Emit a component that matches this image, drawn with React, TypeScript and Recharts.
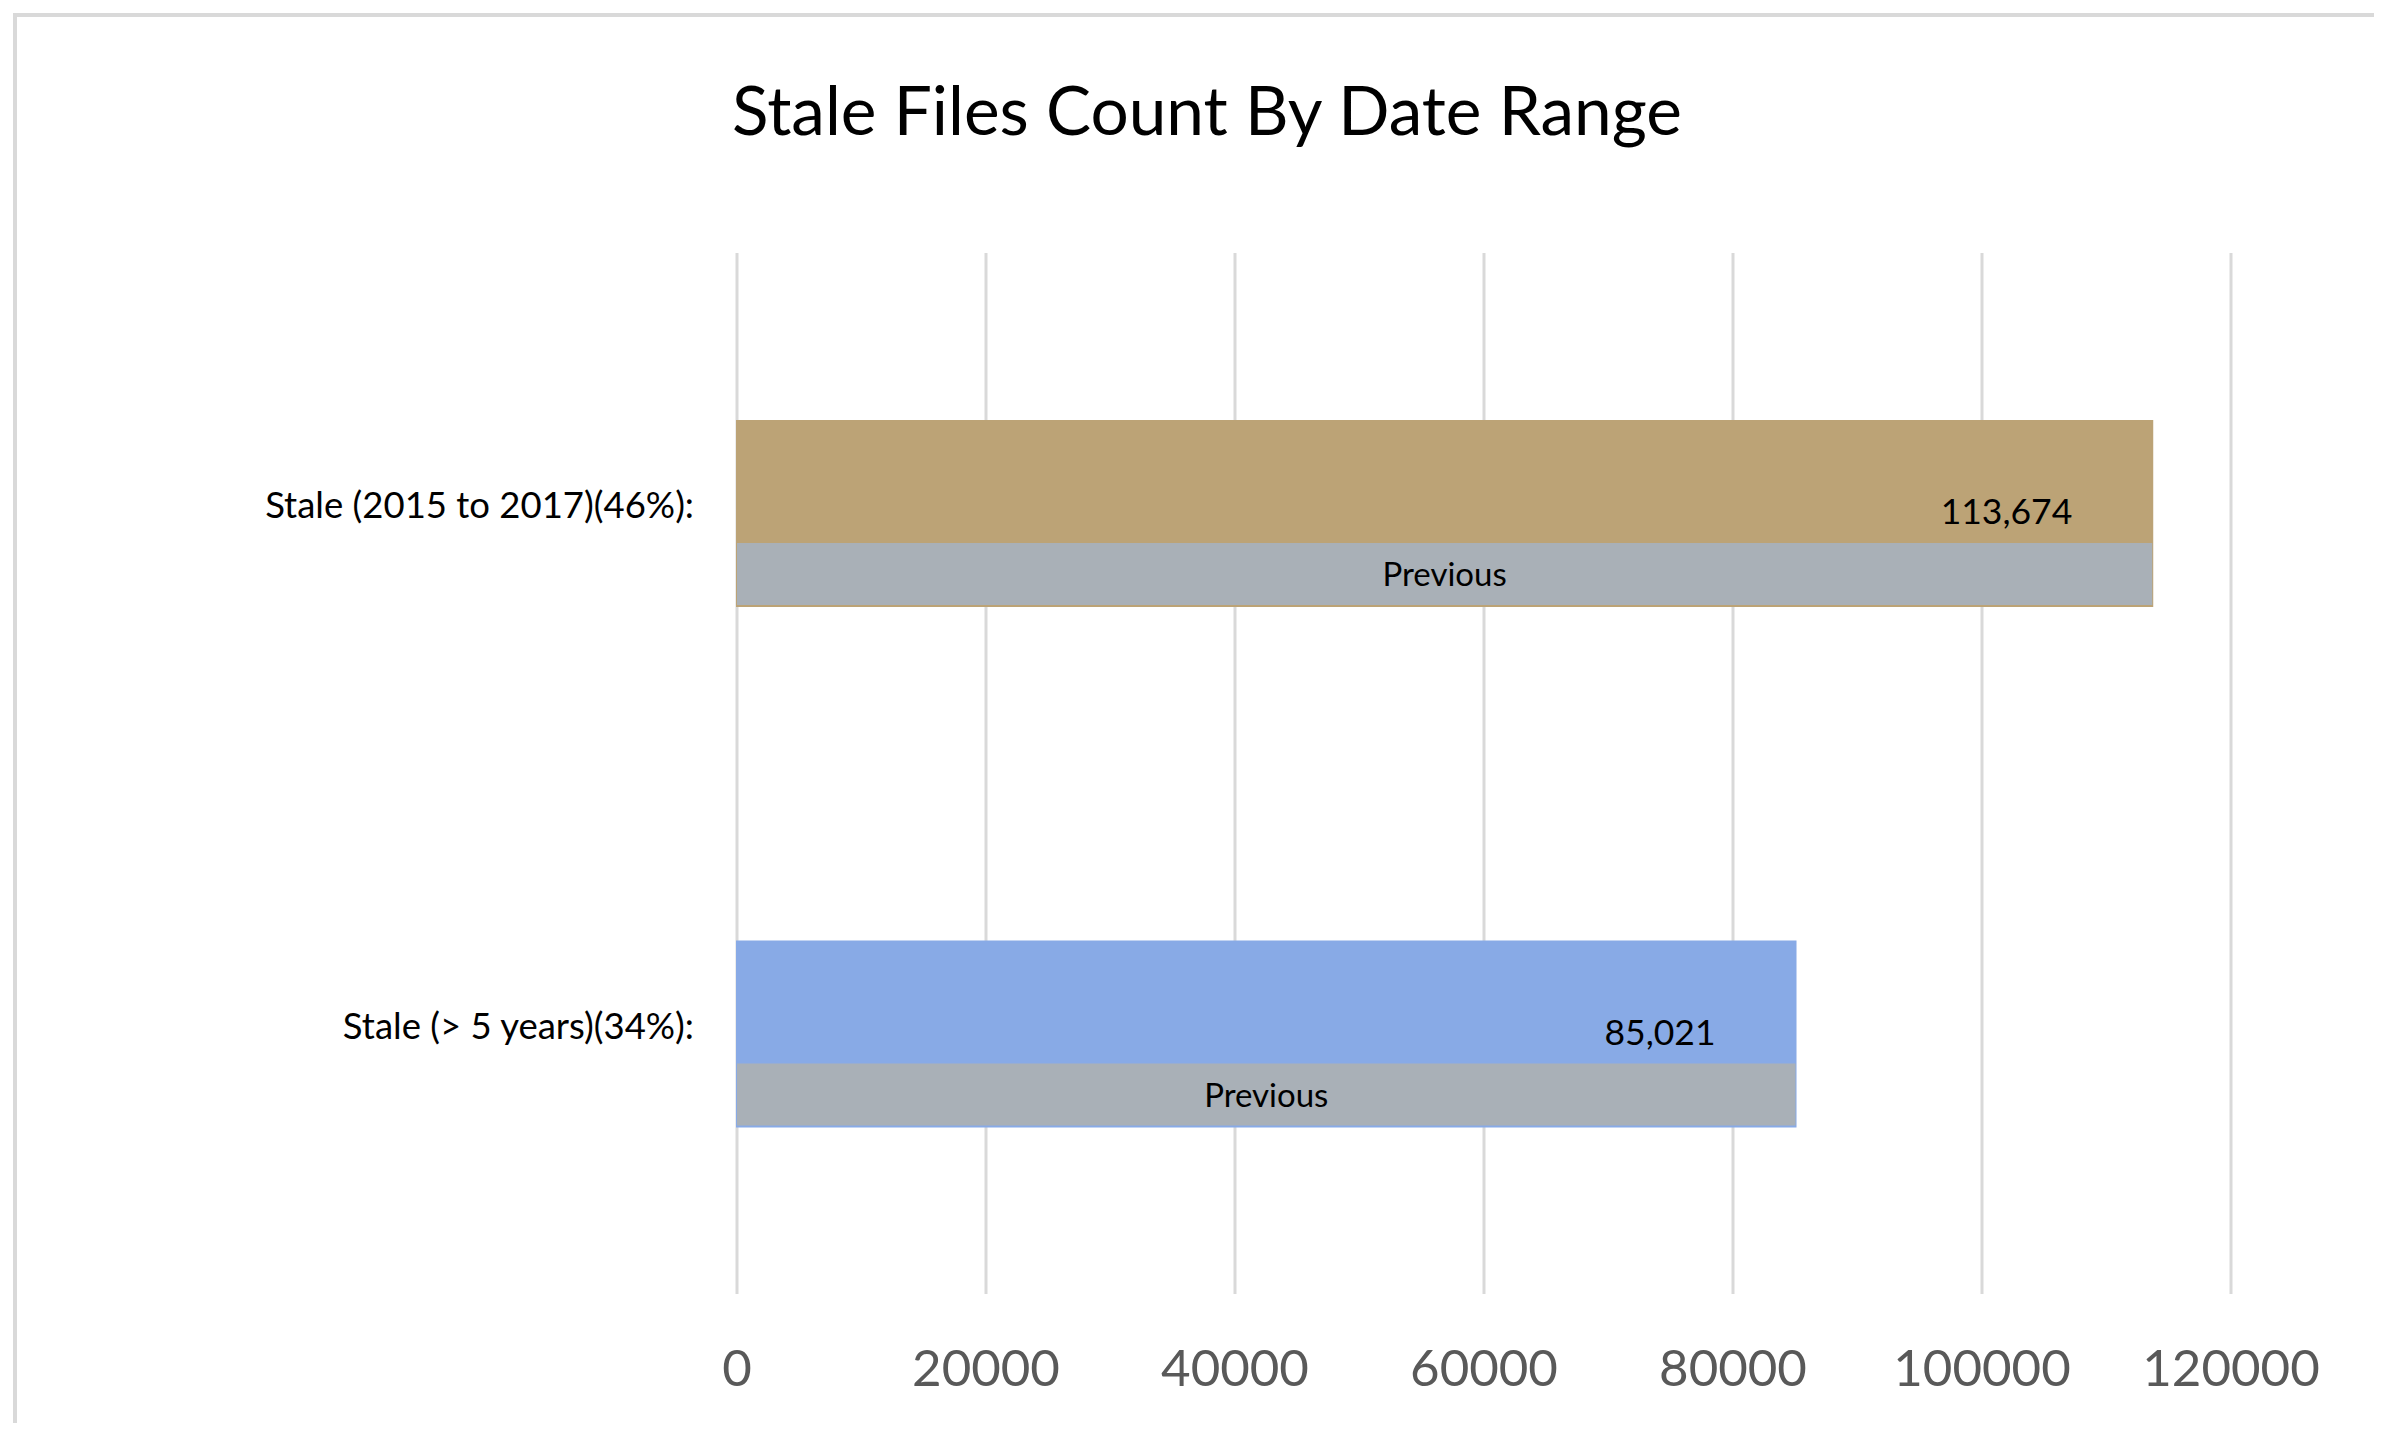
import React from 'react';
import { BarChart, Bar, XAxis, YAxis, CartesianGrid, LabelList, Cell } from 'recharts';

const categories = ['Stale (2015 to 2017)(46%):', 'Stale (> 5 years)(34%):'];
const currentValues = [113674, 85021];
const previousValues = [113674, 85021];
const previousLabels = ['Previous', 'Previous'];
const barColors = ['#BCA376', '#88AAE6'];
const xTicks = [0, 20000, 40000, 60000, 80000, 100000, 120000];
const title = 'Stale Files Count By Date Range';

const data = categories.map((c, i) => ({
  category: c,
  current: currentValues[i],
  previous: previousValues[i],
  prevLabel: previousLabels[i],
}));

const FONT = 'Lato, "Open Sans", sans-serif';

const XTick = (props: any) => {
  const { x, y, payload } = props;
  return (
    <text x={x} y={Number(y) + 92} textAnchor="middle" fill="#595959" fontSize={51} fontFamily={FONT}>
      {payload.value}
    </text>
  );
};

const YTick = (props: any) => {
  const { x, y, payload } = props;
  return (
    <text x={x} y={Number(y) - 9} textAnchor="end" dominantBaseline="central" fill="#000" fontSize={36.5} fontFamily={FONT}>
      {payload.value}
    </text>
  );
};

const ValueLabel = (props: any) => {
  const { x, y, width, height, value } = props;
  return (
    <text
      x={Number(x) + Number(width) - 80}
      y={Number(y) + Number(height) / 2 - 3}
      textAnchor="end"
      dominantBaseline="central"
      fill="#000"
      fontSize={35.5}
      fontFamily={FONT}
    >
      {Number(value).toLocaleString('en-US')}
    </text>
  );
};

const PrevLabel = (props: any) => {
  const { x, y, width, height, value } = props;
  return (
    <text
      x={Number(x) + Number(width) / 2}
      y={Number(y) + Number(height) / 2 - 1}
      textAnchor="middle"
      dominantBaseline="central"
      fill="#000"
      fontSize={33}
      fontFamily={FONT}
    >
      {value}
    </text>
  );
};

export default function App() {
  return (
    <div style={{ position: 'relative', width: 2360, height: 1415, fontFamily: FONT }}>
      <div
        style={{
          position: 'absolute',
          left: 5,
          top: 5,
          width: 2400,
          height: 1440,
          borderLeft: '4px solid #d9d9d9',
          borderTop: '4px solid #d9d9d9',
          boxSizing: 'border-box',
          pointerEvents: 'none',
        }}
      />
      <div
        style={{
          position: 'absolute',
          left: 1199,
          top: 101 - 45,
          height: 90,
          lineHeight: '90px',
          transform: 'translateX(-50%)',
          whiteSpace: 'nowrap',
          fontSize: 67.5,
          color: '#000',
          fontFamily: FONT,
        }}
      >
        {title}
      </div>
      <div style={{ position: 'absolute', left: 0, top: 0 }}>
        <BarChart
          width={2360}
          height={1415}
          data={data}
          layout="vertical"
          margin={{ top: 245, right: 137, bottom: 0, left: 0 }}
          barGap={-63}
        >
          <CartesianGrid horizontal={false} vertical={true} stroke="#d9d9d9" strokeWidth={3} />
          <XAxis
            type="number"
            domain={[0, 120000]}
            ticks={xTicks}
            interval={0}
            axisLine={false}
            tickLine={false}
            tickSize={0}
            tickMargin={0}
            height={129}
            tick={<XTick />}
          />
          <YAxis
            type="category"
            dataKey="category"
            width={729}
            axisLine={false}
            tickLine={false}
            tickSize={0}
            tickMargin={43}
            tick={<YTick />}
          />
          <Bar dataKey="current" barSize={185} isAnimationActive={false}>
            {data.map((d, i) => (
              <Cell key={i} fill={barColors[i]} stroke={barColors[i]} strokeWidth={2} />
            ))}
            <LabelList dataKey="current" content={<ValueLabel />} />
          </Bar>
          <Bar dataKey="previous" barSize={62} fill="#A9B0B7" isAnimationActive={false}>
            <LabelList dataKey="prevLabel" content={<PrevLabel />} />
          </Bar>
        </BarChart>
      </div>
    </div>
  );
}
